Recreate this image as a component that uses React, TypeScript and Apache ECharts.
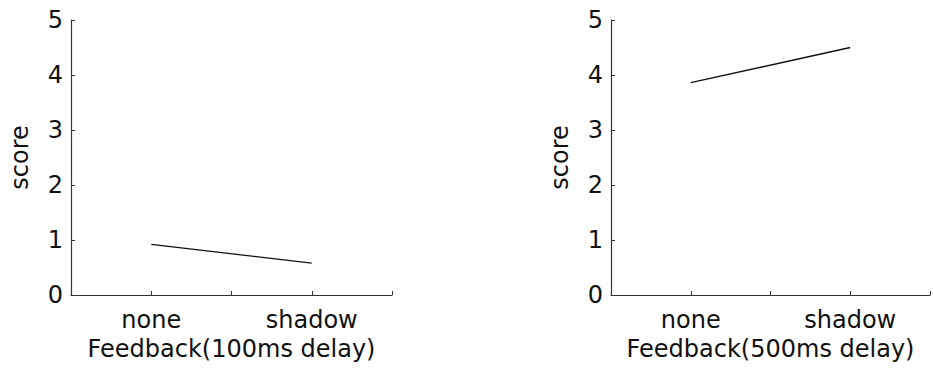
import React, { useEffect, useRef } from "react";
import * as echarts from "echarts";

const categories = ["none", "shadow"];
const score100ms = [0.92, 0.58];
const score500ms = [3.86, 4.5];
const yTicks = [0, 1, 2, 3, 4, 5];
const xTitles = ["Feedback(100ms delay)", "Feedback(500ms delay)"];
const yTitle = "score";

const FONT = "DejaVu Sans";
const TXT = "#111";
const FS = 24;

export default function App() {
  const ref = useRef<HTMLDivElement>(null);
  useEffect(() => {
    if (!ref.current) return;
    const chart = echarts.init(ref.current, undefined, { renderer: "svg" });
    const catX = (i: number) => 1 + 2 * i;
    const labelFor = (v: number) => {
      const idx = categories.findIndex((_, i) => catX(i) === v);
      return idx >= 0 ? categories[idx] : "";
    };
    const grids = [
      { left: 71, top: 20, width: 321, height: 275 },
      { left: 611, top: 20, width: 324, height: 275 },
    ];
    const axisLine = { show: true, lineStyle: { color: "#333", width: 1.2 } };
    const xAxes = grids.map((_, g) => ({
      type: "value",
      gridIndex: g,
      min: 0,
      max: 4,
      interval: 1,
      axisLine,
      axisTick: { show: true, inside: true, length: 4, lineStyle: { color: "#333" } },
      splitLine: { show: false },
      axisLabel: {
        formatter: (v: number) => labelFor(v),
        fontFamily: FONT,
        fontSize: FS,
        color: TXT,
        margin: 13,
        showMinLabel: true,
        showMaxLabel: true,
      },
      name: xTitles[g],
      nameLocation: "middle",
      nameGap: 41,
      nameTextStyle: { fontFamily: FONT, fontSize: FS, color: TXT },
    }));
    const yAxes = grids.map((_, g) => ({
      type: "value",
      gridIndex: g,
      min: yTicks[0],
      max: yTicks[yTicks.length - 1],
      interval: 1,
      axisLine,
      axisTick: { show: true, inside: true, length: 4, lineStyle: { color: "#333" } },
      splitLine: { show: false },
      axisLabel: {
        fontFamily: FONT,
        fontSize: FS,
        color: TXT,
        margin: 8,
      },
      name: yTitle,
      nameLocation: "middle",
      nameGap: 39,
      nameRotate: 90,
      nameTextStyle: { fontFamily: FONT, fontSize: FS, color: TXT },
    }));
    const mk = (vals: number[], g: number) => ({
      type: "line",
      xAxisIndex: g,
      yAxisIndex: g,
      data: vals.map((v, i) => [catX(i), v]),
      showSymbol: false,
      symbol: "none",
      lineStyle: { color: "#111", width: 1.3 },
    });
    chart.setOption({
      animation: false,
      backgroundColor: "#fff",
      grid: grids,
      xAxis: xAxes,
      yAxis: yAxes,
      series: [mk(score100ms, 0), mk(score500ms, 1)],
    });
    return () => chart.dispose();
  }, []);
  return (
    <div
      ref={ref}
      style={{ position: "fixed", left: 0, top: 0, width: 933, height: 372 }}
    />
  );
}
